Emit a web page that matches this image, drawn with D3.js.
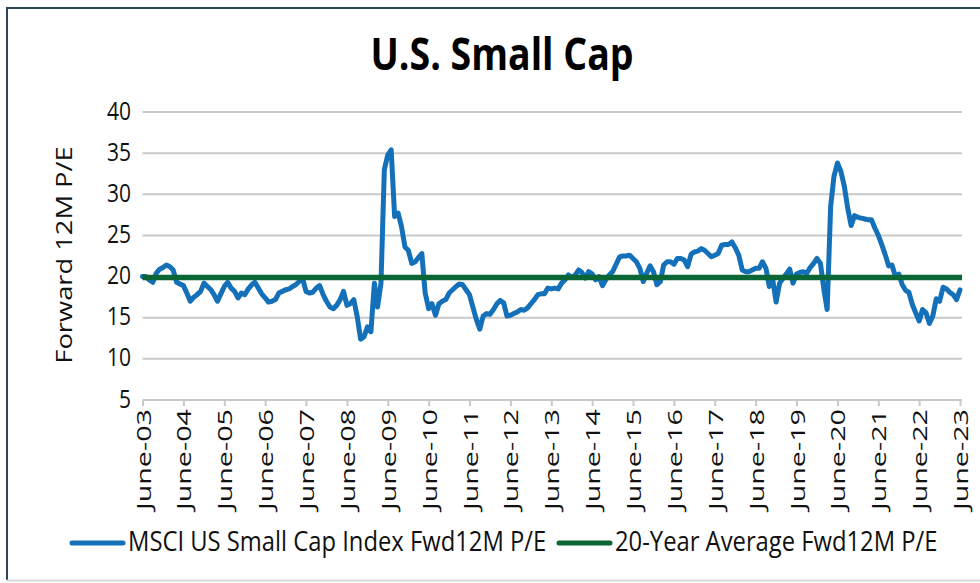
<!DOCTYPE html>
<html><head><meta charset="utf-8">
<script src="https://cdn.jsdelivr.net/npm/d3@7"></script>
<style>html,body{margin:0;padding:0;background:#fff;}svg{display:block;font-family:"Open Sans",sans-serif;}</style>
</head><body><svg id="c" width="980" height="583"></svg>
<script>
const title = "U.S. Small Cap";
const yTitle = "Forward 12M P/E";
const seriesNames = ["MSCI US Small Cap Index Fwd12M P/E", "20-Year Average Fwd12M P/E"];
const yTicks = [5, 10, 15, 20, 25, 30, 35, 40];
const xTickLabels = ["June-03","June-04","June-05","June-06","June-07","June-08","June-09","June-10","June-11","June-12","June-13","June-14","June-15","June-16","June-17","June-18","June-19","June-20","June-21","June-22","June-23"];
// monthly forward P/E, June 2003 .. June 2023
const peValues = [
 20.0,20.0,19.6,19.3,20.4,20.9,21.1,21.4,21.2,20.8,19.3,19.1,
 18.9,18.0,17.0,17.5,17.8,18.2,19.2,18.8,18.4,17.8,17.0,17.9,
 18.8,19.3,18.6,18.2,17.4,18.0,17.8,18.5,19.0,19.3,18.6,17.9,
 17.4,16.9,17.0,17.2,18.0,18.2,18.4,18.5,18.8,19.0,19.4,19.8,
 18.2,18.0,18.1,18.6,18.9,17.8,17.0,16.3,16.1,16.5,17.2,18.2,
 16.5,16.7,17.2,15.1,12.4,12.7,13.9,13.3,19.2,16.3,19.2,33.0,
 34.8,35.4,27.3,27.7,26.1,23.6,23.2,21.6,21.8,22.3,22.8,18.0,
 16.1,16.7,15.3,16.7,17.0,17.2,18.0,18.4,18.8,19.1,19.0,18.4,
 17.8,16.3,14.8,13.6,15.2,15.5,15.4,16.0,16.7,17.1,16.8,15.2,
 15.3,15.5,15.7,16.0,15.9,16.2,16.7,17.2,17.8,17.9,17.9,18.6,
 18.5,18.6,18.5,19.2,19.6,20.2,19.9,20.2,20.8,20.5,19.8,20.6,
 20.3,19.6,20.0,18.9,19.6,20.2,20.6,21.5,22.4,22.5,22.5,22.6,
 22.2,21.8,21.0,19.4,20.4,21.3,20.6,19.0,19.4,21.4,21.8,21.8,
 21.5,22.2,22.2,22.0,21.2,22.7,23.0,23.1,23.4,23.2,22.8,22.4,
 22.6,22.8,23.8,23.9,23.9,24.2,23.5,22.6,20.8,20.6,20.6,20.8,
 21.0,21.0,21.8,21.0,18.8,19.6,16.9,19.2,19.8,20.3,20.9,19.2,
 20.3,20.5,20.6,20.4,21.1,21.6,22.2,21.6,18.4,16.0,28.5,32.2,
 33.8,32.8,31.0,28.3,26.2,27.4,27.2,27.1,27.0,26.9,26.9,25.9,
 25.0,23.9,22.7,21.3,21.4,20.0,20.3,19.0,18.3,18.1,16.6,15.6,
 14.6,16.0,15.6,14.3,15.2,17.3,17.0,18.7,18.5,18.1,17.8,17.2,
 18.4
];
const avgValue = 19.9;

const dates = d3.timeMonth.range(new Date(2003,5,1), new Date(2023,6,1));
const tickDates = d3.timeYear.range(new Date(2003,0,1), new Date(2024,0,1)).map(d => new Date(d.getFullYear(),5,1));

const svg = d3.select("#c");
const blue = "#1470B9", green = "#0A6634", grid = "#C9C9C9", ink = "#111";

// frame
svg.append("line").attr("x1",7).attr("x2",7).attr("y1",8).attr("y2",580).attr("stroke","#2E4756").attr("stroke-width",2);
svg.append("line").attr("x1",6).attr("x2",980).attr("y1",8).attr("y2",8).attr("stroke","#2E4756").attr("stroke-width",2);
svg.append("line").attr("x1",7).attr("x2",980).attr("y1",580.5).attr("y2",580.5).attr("stroke","#DADADA").attr("stroke-width",2);

const x = d3.scaleTime().domain([dates[0], dates[dates.length-1]]).range([142.5, 960]);
const y = d3.scaleLinear().domain([5,40]).range([400,112]);

// gridlines
svg.append("g").selectAll("line").data(yTicks).join("line")
  .attr("x1",142.5).attr("x2",962).attr("y1",d=>y(d)).attr("y2",d=>y(d))
  .attr("stroke",grid).attr("stroke-width",2);

// y tick labels
svg.append("g").selectAll("text").data(yTicks).join("text")
  .attr("transform",d=>`translate(131,${y(d)+7.5}) scale(1,1.25)`)
  .attr("text-anchor","end").attr("font-size",21).attr("fill",ink)
  .text(d=>d);

// x axis ticks
const xAxis = d3.axisBottom(x).tickValues(tickDates).tickSize(6).tickFormat((d,i)=>xTickLabels[i]);
const gx = svg.append("g").attr("transform","translate(0,400)").call(xAxis);
gx.select(".domain").remove();
gx.selectAll(".tick line").attr("stroke",grid).attr("stroke-width",2);
gx.selectAll(".tick text")
  .attr("font-family","Open Sans").attr("font-size",20.5).attr("fill",ink)
  .attr("text-anchor","end").attr("dy",null).attr("y",0)
  .attr("transform","translate(7.5,9) rotate(-90) scale(1.4,1)");

// y title
svg.append("text").attr("transform","translate(72,255) rotate(-90) scale(1.3,1)")
  .attr("text-anchor","middle").attr("font-size",21).attr("fill",ink).text(yTitle);

// title
svg.append("text").attr("transform","translate(502,70) scale(1,1.2)")
  .attr("text-anchor","middle").attr("font-size",37.5).attr("font-weight","bold").attr("fill","#000").text(title);

// series line
const line = d3.line().x((d,i)=>x(dates[i])).y(d=>y(d)).curve(d3.curveLinear);
svg.append("path").datum(peValues).attr("d",line).attr("fill","none")
  .attr("stroke",blue).attr("stroke-width",5).attr("stroke-linejoin","round").attr("stroke-linecap","round");

// average line
svg.append("line").attr("x1",x(dates[0])).attr("x2",962).attr("y1",y(avgValue)).attr("y2",y(avgValue))
  .attr("stroke",green).attr("stroke-width",5.5);

// legend
const lg = svg.append("g");
const legendItems = [{name:seriesNames[0],color:blue,x:70},{name:seriesNames[1],color:green,x:557}];
legendItems.forEach(it=>{
  lg.append("line").attr("x1",it.x+2).attr("x2",it.x+53).attr("y1",543).attr("y2",543)
    .attr("stroke",it.color).attr("stroke-width",5).attr("stroke-linecap","round");
  lg.append("text").attr("transform",`translate(${it.x+58},551) scale(1,1.12)`)
    .attr("font-size",23.8).attr("fill",ink).text(it.name);
});
</script></body></html>
